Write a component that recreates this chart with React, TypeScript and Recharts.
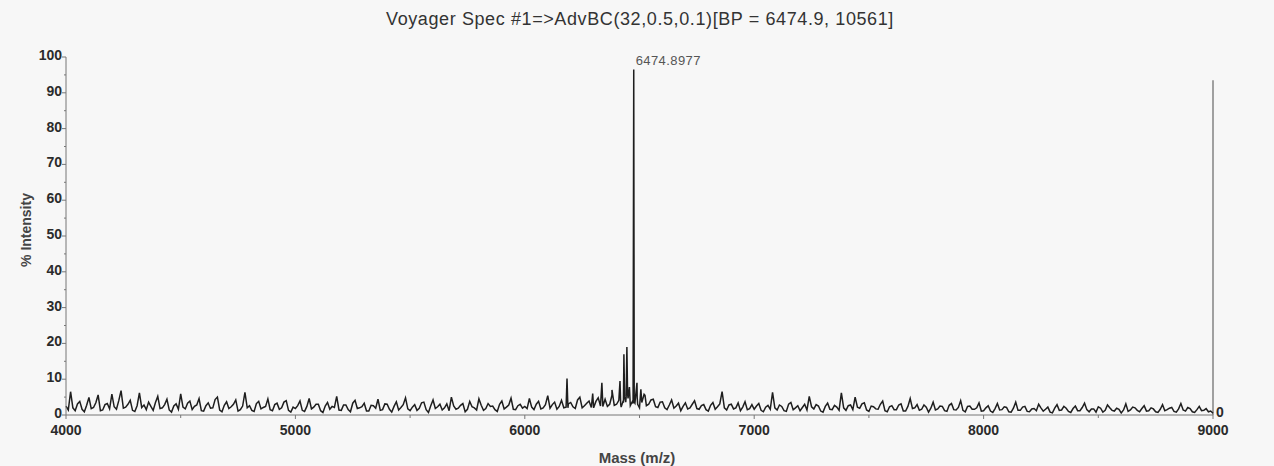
import React from "react";
import {
  LineChart,
  Line,
  XAxis,
  YAxis,
  ReferenceLine,
  ReferenceDot,
} from "recharts";

const TITLE = "Voyager Spec #1=>AdvBC(32,0.5,0.1)[BP = 6474.9, 10561]";
const PEAK_LABEL = "6474.8977";
const STEP = 10;

// baseline noise, one value every 10 Da
const NOISE_4000 = [
  2.5, 1.4, 6.5, 2.0, 1.2, 3.1, 3.8, 1.6, 0.9, 2.7, 4.9, 1.8, 2.1, 3.4, 5.6, 1.2, 1.4, 2.9, 3.2, 1.7,
  5.8, 2.3, 1.6, 4.0, 6.8, 1.9, 2.2, 3.0, 4.1, 1.3, 1.0, 2.6, 6.2, 2.1, 2.8, 1.5, 3.6, 2.4, 1.3, 3.5,
  5.2, 1.8, 2.0, 2.9, 4.4, 1.4, 0.8, 2.5, 3.1, 1.6, 5.9, 2.2, 1.7, 3.3, 3.9, 1.5, 2.4, 2.8, 4.6, 1.2,
  1.1, 2.6, 3.4, 1.9, 2.0, 4.3, 5.0, 1.4, 0.9, 2.7, 3.7, 1.8, 2.3, 3.0, 4.2, 1.1, 1.5, 2.5, 6.3, 2.0,
  2.6, 1.3, 1.0, 3.2, 3.8, 1.7, 2.1, 2.4, 4.5, 1.5, 1.2, 2.9, 3.3, 1.6, 2.0, 3.6, 4.0, 1.3, 0.8, 2.2,
];
const NOISE_5000 = [
  1.8, 2.6, 3.9, 1.3, 1.0, 2.4, 4.6, 1.7, 2.2, 3.0, 3.0, 1.2, 0.7, 2.5, 3.5, 1.6, 2.4, 2.1, 5.2, 1.4,
  1.3, 2.8, 2.8, 1.5, 0.9, 3.3, 4.1, 1.8, 2.0, 2.3, 3.3, 1.1, 1.1, 2.7, 2.6, 1.9, 4.4, 1.3, 1.5, 3.1,
  3.0, 1.6, 0.8, 2.4, 3.7, 1.4, 2.1, 2.9, 4.8, 1.7, 1.2, 2.2, 2.9, 1.3, 1.9, 3.4, 3.6, 1.5, 0.7, 2.6,
  4.2, 1.8, 2.3, 3.0, 1.4, 2.0, 3.1, 1.2, 5.0, 2.5, 1.6, 1.9, 2.7, 3.2, 0.9, 1.6, 3.8, 2.3, 2.0, 1.4,
  4.5, 2.7, 1.3, 1.8, 3.2, 2.4, 2.5, 1.5, 1.0, 3.0, 3.9, 1.7, 2.2, 2.8, 4.7, 1.6, 1.5, 2.6, 3.0, 1.9,
];
const NOISE_6000 = [
  2.4, 1.8, 4.6, 2.2, 1.5, 3.0, 3.8, 1.7, 2.0, 2.9, 5.4, 1.9, 2.9, 3.6, 1.6, 2.4, 4.1, 2.0, 2.2, 3.1,
  3.5, 2.3, 1.8, 4.2, 5.0, 2.0, 2.6, 3.3, 3.9, 2.1, 2.0, 3.8, 4.8, 2.5, 3.1, 4.4, 2.4, 3.0, 5.5, 2.7,
  3.0, 4.1, 2.2, 3.4, 3.6, 4.6, 2.6, 3.9, 3.3, 4.8, 2.0, 3.5, 5.8, 2.6, 3.0, 4.2, 4.4, 2.3, 2.1, 3.6,
  3.7, 2.0, 1.5, 2.8, 4.2, 1.9, 2.5, 3.3, 1.2, 2.4, 3.4, 1.7, 2.0, 3.0, 4.0, 1.8, 1.6, 2.6, 2.9, 1.5,
  1.1, 2.7, 3.5, 1.6, 2.3, 3.1, 6.5, 2.0, 1.4, 2.8, 3.0, 1.7, 2.0, 3.4, 1.2, 2.2, 3.7, 1.5, 1.8, 2.9,
];
const NOISE_7000 = [
  1.6, 2.5, 3.2, 1.3, 0.9, 2.2, 2.7, 1.6, 6.3, 2.0, 1.4, 2.8, 2.4, 1.2, 1.0, 3.0, 3.5, 1.5, 2.0, 2.6,
  1.2, 2.1, 3.0, 1.4, 5.2, 2.3, 1.7, 2.9, 2.5, 1.1, 0.8, 2.4, 3.3, 1.6, 1.5, 2.7, 2.2, 1.3, 6.2, 2.0,
  1.3, 2.6, 2.8, 1.5, 5.0, 2.2, 1.9, 3.1, 3.4, 1.4, 1.0, 2.5, 2.3, 1.7, 1.6, 3.0, 3.9, 1.2, 0.9, 2.3,
  2.6, 1.5, 1.5, 2.8, 3.1, 1.1, 1.1, 2.4, 4.6, 1.8, 2.0, 2.9, 1.3, 1.6, 2.8, 2.2, 0.8, 1.9, 3.6, 1.4,
  1.7, 2.5, 2.4, 1.2, 1.0, 2.7, 3.2, 1.5, 1.4, 2.1, 4.0, 1.3, 0.9, 2.4, 2.5, 1.6, 1.6, 2.0, 3.4, 1.1,
];
const NOISE_8000 = [
  1.2, 2.0, 2.6, 1.1, 0.7, 1.8, 3.2, 1.4, 1.5, 2.3, 2.1, 0.9, 0.8, 1.9, 3.6, 1.3, 1.3, 2.2, 2.4, 1.0,
  0.9, 1.7, 1.8, 1.2, 3.0, 2.0, 1.1, 1.6, 2.2, 0.8, 0.6, 1.9, 2.9, 1.3, 1.4, 2.4, 1.9, 1.0, 0.7, 1.8,
  2.5, 1.2, 1.2, 2.1, 3.3, 1.5, 0.9, 1.7, 1.7, 0.8, 2.3, 1.9, 0.8, 1.3, 2.8, 2.0, 1.3, 1.1, 1.9, 1.6,
  0.6, 1.4, 3.1, 1.0, 1.4, 2.2, 2.0, 1.3, 0.9, 1.8, 2.6, 1.1, 1.2, 2.0, 1.7, 0.9, 0.7, 1.6, 2.9, 1.2,
  1.5, 1.9, 2.1, 1.0, 0.8, 1.7, 3.2, 1.4, 1.1, 2.1, 1.8, 0.9, 0.7, 1.5, 2.4, 1.2, 1.3, 1.8, 0.9, 1.1,
  0.5,
];

// [mass, % intensity] of the peaks on top of the noise
const PEAKS: [number, number][] = [
  [6184, 10.2], [6188, 2.0],
  [6296, 6.0],
  [6336, 9.0], [6340, 2.4],
  [6380, 7.0],
  [6415, 9.5], [6418, 3.0],
  [6429, 4.0], [6432, 17.0], [6435, 5.0],
  [6442, 5.2], [6445, 19.0], [6448, 6.0],
  [6456, 7.8],
  [6472, 3.2], [6474.9, 96.5], [6477, 3.6],
  [6489, 9.0], [6492, 3.0],
  [6506, 7.2],
  [6524, 5.5],
];

const X_TICKS = [4000, 4500, 5000, 5500, 6000, 6500, 7000, 7500, 8000, 8500, 9000];
const Y_TICKS = [0, 5, 10, 15, 20, 25, 30, 35, 40, 45, 50, 55, 60, 65, 70, 75, 80, 85, 90, 95, 100];
const RIGHT_TOP = 93.5;
const RIGHT_LABEL = "0";

const SEGMENTS: [number, number[]][] = [
  [4000, NOISE_4000],
  [5000, NOISE_5000],
  [6000, NOISE_6000],
  [7000, NOISE_7000],
  [8000, NOISE_8000],
];

const data = [
  ...SEGMENTS.flatMap(([start, vals]) =>
    vals.map((v, i) => ({ mass: start + i * STEP, intensity: v }))
  ),
  ...PEAKS.map(([m, v]) => ({ mass: m, intensity: v })),
].sort((a, b) => a.mass - b.mass);

const FONT = "'Liberation Sans', Arial, sans-serif";
const INK = "#2b2b2b";

function XTick({ x, y, payload }: any) {
  const major = payload.value % 1000 === 0;
  return (
    <g>
      <line x1={x} y1={y} x2={x} y2={y + (major ? 4 : 3)} stroke="#777" />
      {major && (
        <text x={x} y={y + 20} textAnchor="middle" fontSize={14} fontWeight="bold" fill={INK} fontFamily={FONT}>
          {payload.value}
        </text>
      )}
    </g>
  );
}

function YTick({ x, y, payload }: any) {
  const major = payload.value % 10 === 0;
  return (
    <g>
      <line x1={x} y1={y} x2={x - (major ? 4 : 2)} y2={y} stroke="#777" />
      {major && (
        <text x={x - 4} y={y + 3} textAnchor="end" fontSize={14} fontWeight="bold" fill={INK} fontFamily={FONT}>
          {payload.value}
        </text>
      )}
    </g>
  );
}

function PeakLabel({ viewBox }: any) {
  return (
    <text x={viewBox.x + 2} y={viewBox.y - 5} fontSize={13} letterSpacing={0.4} fill="#555" fontFamily={FONT}>
      {PEAK_LABEL}
    </text>
  );
}

function RightLabel({ viewBox }: any) {
  return (
    <text x={viewBox.x + 3} y={viewBox.y + 2} fontSize={14} fontWeight="bold" fill={INK} fontFamily={FONT}>
      {RIGHT_LABEL}
    </text>
  );
}

export default function App() {
  return (
    <div
      style={{
        position: "absolute",
        left: 0,
        top: 0,
        width: 1274,
        height: 466,
        background: "#f7f7f7",
        fontFamily: FONT,
      }}
    >
      <div
        style={{
          position: "absolute",
          left: 0,
          width: 1280,
          top: 9,
          textAlign: "center",
          fontSize: 18,
          letterSpacing: 0.6,
          color: "#333",
        }}
      >
        {TITLE}
      </div>
      <div
        style={{
          position: "absolute",
          left: 26 - 60,
          top: 222,
          width: 120,
          textAlign: "center",
          fontSize: 14,
          fontWeight: "bold",
          color: "#444",
          transform: "rotate(-90deg)",
        }}
      >
        % Intensity
      </div>
      <div
        style={{
          position: "absolute",
          left: 537,
          width: 200,
          top: 449,
          textAlign: "center",
          fontSize: 15,
          fontWeight: "bold",
          color: "#444",
        }}
      >
        Mass (m/z)
      </div>
      <LineChart
        width={1274}
        height={466}
        data={data}
        margin={{ top: 57, right: 61, left: 0, bottom: 19 }}
      >
        <XAxis
          dataKey="mass"
          type="number"
          domain={[4000, 9000]}
          ticks={X_TICKS}
          interval={0}
          tick={<XTick />}
          tickLine={false}
          tickSize={0}
          tickMargin={0}
          height={32}
          stroke="#777"
        />
        <YAxis
          domain={[0, 100]}
          ticks={Y_TICKS}
          interval={0}
          tick={<YTick />}
          tickLine={false}
          tickSize={0}
          tickMargin={0}
          width={66}
          stroke="#777"
        />
        <ReferenceLine
          segment={[
            { x: 9000, y: 0 },
            { x: 9000, y: RIGHT_TOP },
          ]}
          stroke="#666"
          strokeWidth={1.2}
        />
        <Line
          type="linear"
          dataKey="intensity"
          stroke="#1e1e1e"
          strokeWidth={1.5}
          dot={false}
          isAnimationActive={false}
        />
        <ReferenceDot x={6474.9} y={96.5} r={0} stroke="none" label={<PeakLabel />} />
        <ReferenceDot x={9000} y={0} r={0} stroke="none" label={<RightLabel />} />
      </LineChart>
    </div>
  );
}
